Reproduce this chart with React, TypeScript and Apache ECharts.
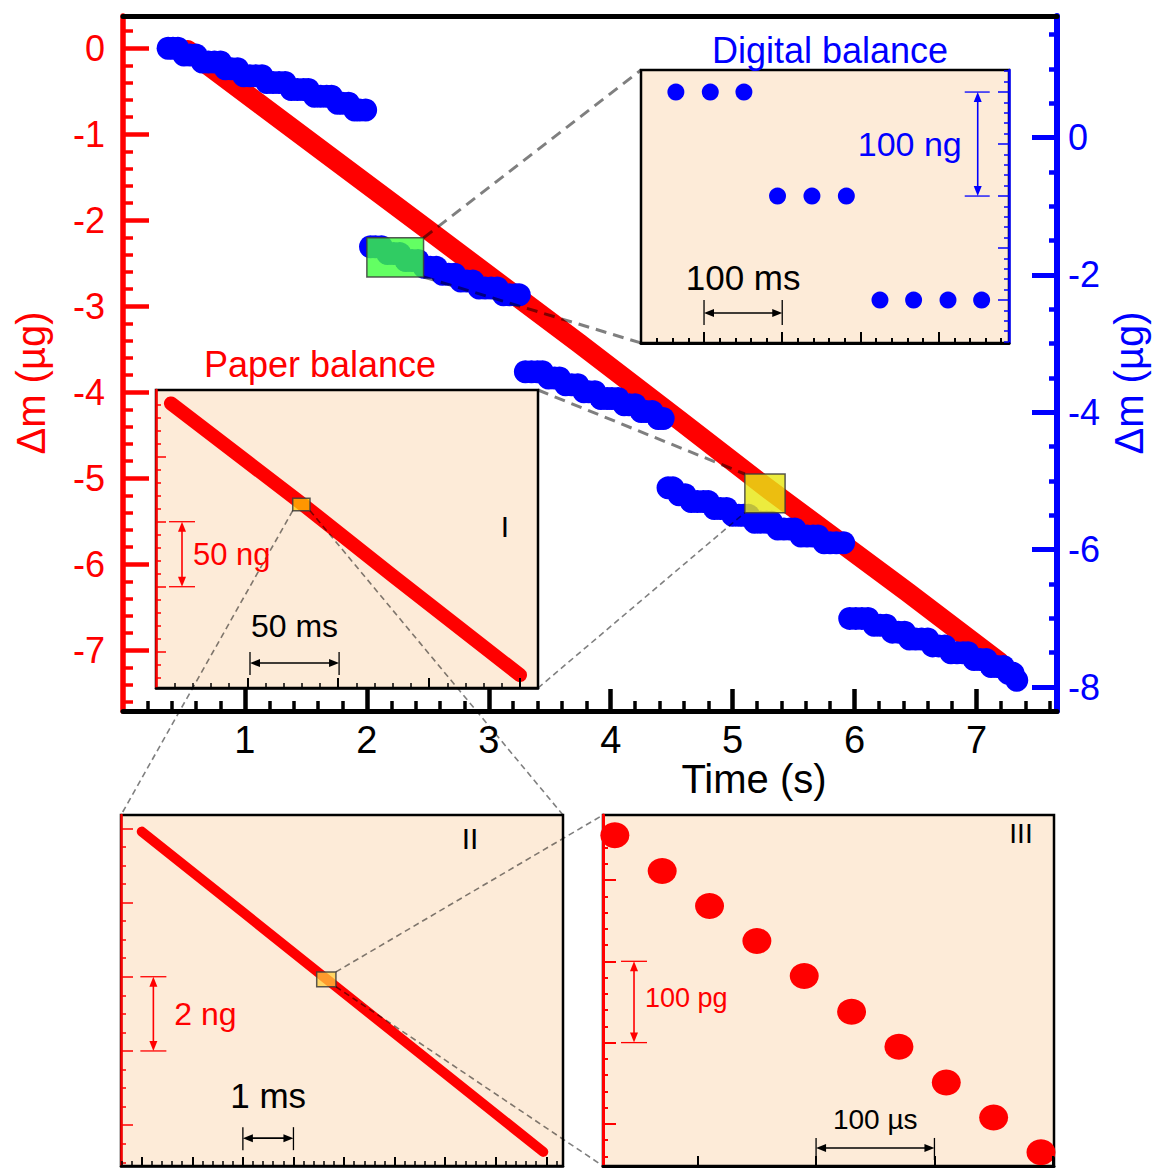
import React, { useEffect, useRef } from 'react';
import * as echarts from 'echarts';

const FONT = '"Liberation Sans", Arial, Helvetica, sans-serif';
const RED = '#ff0000';
const BLUE = '#0000ff';
const PEACH = '#fdebd8';
const DASHC = 'rgba(0,0,0,0.5)';

// ---------- data ----------
// Paper balance (main plot, left axis, µg vs s)
const paperTime = [0.53, 1.68, 2.5, 3.74, 4.56, 5.27, 6.43, 7.19];
const paperMass = [-0.02, -1.24, -2.11, -3.43, -4.32, -5.1, -6.32, -7.14];

// Digital balance (main plot, right axis, µg vs s), five segments
const digitalSeg1: number[][] = [
  [0.37, 1.3], [0.41, 1.3], [0.45, 1.3],
  [0.5, 1.2], [0.55, 1.2], [0.6, 1.2],
  [0.65, 1.1], [0.7, 1.1], [0.75, 1.1], [0.8, 1.1],
  [0.84, 1.0], [0.89, 1.0], [0.94, 1.0],
  [0.99, 0.9], [1.04, 0.9], [1.09, 0.9], [1.14, 0.9],
  [1.18, 0.8], [1.23, 0.8], [1.28, 0.8], [1.33, 0.8],
  [1.38, 0.7], [1.43, 0.7], [1.48, 0.7], [1.52, 0.7],
  [1.57, 0.6], [1.62, 0.6], [1.67, 0.6], [1.71, 0.6],
  [1.76, 0.5], [1.8, 0.5], [1.85, 0.5],
  [1.9, 0.4], [1.94, 0.4], [1.99, 0.4],
];
const digitalSeg2: number[][] = [
  [2.03, -1.59], [2.07, -1.59], [2.12, -1.59],
  [2.17, -1.69], [2.22, -1.69], [2.27, -1.69],
  [2.32, -1.79], [2.37, -1.79], [2.42, -1.79],
  [2.47, -1.89], [2.52, -1.89], [2.57, -1.89],
  [2.62, -1.99], [2.67, -1.99], [2.72, -1.99],
  [2.77, -2.09], [2.82, -2.09], [2.87, -2.09],
  [2.92, -2.19], [2.97, -2.19], [3.02, -2.19], [3.07, -2.19],
  [3.12, -2.29], [3.17, -2.29], [3.22, -2.29], [3.25, -2.29],
];
const digitalSeg3: number[][] = [
  [3.3, -3.41], [3.35, -3.41], [3.4, -3.41], [3.44, -3.41],
  [3.49, -3.5], [3.54, -3.5], [3.58, -3.5],
  [3.63, -3.6], [3.68, -3.6], [3.73, -3.6],
  [3.78, -3.7], [3.82, -3.7], [3.87, -3.7],
  [3.92, -3.8], [3.97, -3.8], [4.01, -3.8], [4.06, -3.8],
  [4.11, -3.89], [4.15, -3.89], [4.2, -3.89],
  [4.25, -3.99], [4.29, -3.99], [4.34, -3.99],
  [4.39, -4.09], [4.43, -4.09],
];
const digitalSeg4: number[][] = [
  [4.47, -5.1], [4.51, -5.1],
  [4.56, -5.2], [4.61, -5.2],
  [4.66, -5.3], [4.71, -5.3], [4.76, -5.3], [4.8, -5.3],
  [4.85, -5.4], [4.9, -5.4], [4.95, -5.4],
  [5.0, -5.5], [5.05, -5.5], [5.09, -5.5], [5.13, -5.5],
  [5.18, -5.6], [5.23, -5.6], [5.28, -5.6], [5.32, -5.6],
  [5.37, -5.7], [5.42, -5.7], [5.47, -5.7], [5.51, -5.7],
  [5.56, -5.8], [5.61, -5.8], [5.66, -5.8], [5.7, -5.8],
  [5.75, -5.9], [5.8, -5.9], [5.85, -5.9], [5.91, -5.9],
];
const digitalSeg5: number[][] = [
  [5.96, -7.0], [6.01, -7.0], [6.06, -7.0], [6.11, -7.0],
  [6.16, -7.1], [6.21, -7.1], [6.26, -7.1],
  [6.31, -7.2], [6.36, -7.2], [6.41, -7.2],
  [6.45, -7.3], [6.5, -7.3], [6.55, -7.3], [6.6, -7.3],
  [6.64, -7.4], [6.69, -7.4], [6.74, -7.4],
  [6.79, -7.5], [6.84, -7.5], [6.89, -7.5], [6.93, -7.5],
  [6.98, -7.6], [7.03, -7.6], [7.08, -7.6],
  [7.12, -7.7], [7.17, -7.7], [7.22, -7.7],
  [7.26, -7.8], [7.3, -7.8],
  [7.33, -7.9],
];

// Digital balance zoom (ms, ng)
const digZoomTime = [-36, 8, 51, 94, 138, 182, 225, 268, 312, 355];
const digZoomMass = [0, 0, 0, -100, -100, -100, -200, -200, -200, -200];

// Paper balance zoom I (ms, ng)
const p1Time = [-42, 0, 29, 80, 150];
const p1Mass = [91, 46, 15, -41.5, -118];

// Paper balance zoom II (ms, ng)
const p2Time = [0, 2, 3.65, 6, 7.94];
const p2Mass = [-0.09, -2.26, -4.06, -6.61, -8.72];

// Paper balance zoom III (µs, pg)
const p3Time = [-70, -30, 10, 50, 90, 130, 170, 210, 250, 290];
const p3Mass = [55, 11, -32, -75, -118, -162, -205, -249, -292, -335];

// ---------- tick values ----------
const range = (a: number, b: number, step: number, skipMultiple?: number) => {
  const out: number[] = [];
  const n = Math.round((b - a) / step);
  for (let i = 0; i <= n; i++) {
    const v = +(a + i * step).toFixed(6);
    if (skipMultiple && Math.abs(v / skipMultiple - Math.round(v / skipMultiple)) < 1e-6) continue;
    out.push(v);
  }
  return out;
};
const mainXMajor = [1, 2, 3, 4, 5, 6, 7];
const mainXMinor = range(0.2, 7.6, 0.2, 1);
const mainLeftMajor = [0, -1, -2, -3, -4, -5, -6, -7];
const mainLeftMinor = range(-7.6, 0.2, 0.2, 1);
const mainRightMajor = [0, -2, -4, -6, -8];
const mainRightMinor = range(-7.5, 1.5, 0.5, 2);
const digXMajor = [0, 100, 200, 300];
const digXMinor = range(-60, 380, 20, 100);
const digYMajor = [0, -50, -100, -150, -200];
const digYMinor = range(-240, 20, 10, 50);
const p1XMajor = [0, 50, 100, 150];
const p1XMinor = range(-40, 150, 10, 50);
const p1YMajor = [50, 0, -50, -100];
const p1YMinor = range(-120, 100, 10, 50);
const p2XMajor = [0, 1, 2, 3, 4, 5, 6, 7, 8];
const p2XMinor = range(-0.4, 8.2, 0.2, 1);
const p2YMajor = [0, -2, -4, -6, -8];
const p2YMinor = range(-9, 0, 0.5, 2);
const p3XMajor = [0, 100, 200, 300];
const p3YMajor = [0, -100, -200, -300];
const p3YMinor = range(-340, 60, 20, 100);

// ---------- layout ----------
const G = {
  main: { left: 123, top: 16, width: 934, height: 695 },
  dig: { left: 641, top: 70, width: 368, height: 273 },
  p1: { left: 156, top: 390, width: 382, height: 298 },
  p2: { left: 121, top: 815, width: 442, height: 351 },
  p3: { left: 603, top: 815, width: 451, height: 351 },
};

type AxOpt = {
  line?: [string, number] | null;
  ticks?: number[];
  tickLen?: number;
  tickW?: number;
  tickColor?: string;
  labels?: number[];
  labelColor?: string;
  labelSize?: number;
  margin?: number;
  z?: number;
};
const mkAxis = (gridIndex: number, position: string, min: number, max: number, o: AxOpt) => ({
  type: 'value',
  gridIndex,
  position,
  min,
  max,
  z: o.z ?? 0,
  axisLine: o.line
    ? { show: true, onZero: false, lineStyle: { color: o.line[0], width: o.line[1] } }
    : { show: false, onZero: false },
  axisTick: o.ticks
    ? {
        show: true,
        inside: true,
        length: o.tickLen ?? 8,
        customValues: o.ticks,
        lineStyle: { color: o.tickColor ?? '#000', width: o.tickW ?? 2 },
      }
    : { show: false },
  axisLabel: o.labels
    ? {
        show: true,
        customValues: o.labels,
        color: o.labelColor ?? '#000',
        fontSize: o.labelSize ?? 36,
        fontFamily: FONT,
        margin: o.margin ?? 10,
      }
    : { show: false },
  splitLine: { show: false },
  splitArea: { show: false },
  minorTick: { show: false },
});

const zip = (a: number[], b: number[]) => a.map((v, i) => [v, b[i]]);

function buildOption() {
  const inset = (g: any) => ({
    ...g,
    show: true,
    backgroundColor: PEACH,
    borderColor: '#000',
    borderWidth: 2.5,
    z: 3,
    containLabel: false,
    outerBoundsMode: 'none',
  });
  const xAxis = [
    mkAxis(0, 'bottom', 0, 7.66, {
      line: ['#000', 5], ticks: mainXMajor, tickLen: 22, tickW: 4.5,
      labels: mainXMajor, labelColor: '#000', labelSize: 38, margin: 10,
    }),
    mkAxis(0, 'bottom', 0, 7.66, { ticks: mainXMinor, tickLen: 10, tickW: 3.5 }),
    mkAxis(0, 'top', 0, 7.66, { line: ['#000', 5] }),
    mkAxis(1, 'bottom', -80.6, 390, { line: ['#000', 3], ticks: digXMajor, tickLen: 11, tickW: 2, z: 6 }),
    mkAxis(1, 'bottom', -80.6, 390, { ticks: digXMinor, tickLen: 5, tickW: 2, z: 6 }),
    mkAxis(2, 'bottom', -50.2, 159.9, { line: ['#000', 2.5], ticks: p1XMajor, tickLen: 10, tickW: 2, z: 6 }),
    mkAxis(2, 'bottom', -50.2, 159.9, { ticks: p1XMinor, tickLen: 5, tickW: 1.5, z: 6 }),
    mkAxis(3, 'bottom', -0.41, 8.33, { line: ['#000', 2.5], ticks: p2XMajor, tickLen: 9, tickW: 2, z: 6 }),
    mkAxis(3, 'bottom', -0.41, 8.33, { ticks: p2XMinor, tickLen: 5, tickW: 1.5, z: 6 }),
    mkAxis(4, 'bottom', -80, 301, { line: ['#000', 3], ticks: p3XMajor, tickLen: 10, tickW: 2, z: 6 }),
  ];
  const yAxis = [
    mkAxis(0, 'left', -7.706, 0.376, {
      line: [RED, 5.5], ticks: mainLeftMajor, tickLen: 26, tickW: 4.5, tickColor: RED,
      labels: mainLeftMajor, labelColor: RED, labelSize: 36, margin: 18,
    }),
    mkAxis(0, 'left', -7.706, 0.376, { ticks: mainLeftMinor, tickLen: 10, tickW: 3.5, tickColor: RED }),
    mkAxis(0, 'right', -8.348, 1.769, {
      line: [BLUE, 6], ticks: mainRightMajor, tickLen: 25, tickW: 5, tickColor: BLUE,
      labels: mainRightMajor, labelColor: BLUE, labelSize: 36, margin: 11,
    }),
    mkAxis(0, 'right', -8.348, 1.769, { ticks: mainRightMinor, tickLen: 8, tickW: 4.5, tickColor: BLUE }),
    mkAxis(1, 'right', -241.3, 21.2, { line: [BLUE, 2.5], ticks: digYMajor, tickLen: 11, tickW: 1.5, tickColor: BLUE, z: 6 }),
    mkAxis(1, 'right', -241.3, 21.2, { ticks: digYMinor, tickLen: 5, tickW: 1.5, tickColor: BLUE, z: 6 }),
    mkAxis(2, 'left', -127.9, 101.3, { line: [RED, 2.5], ticks: p1YMajor, tickLen: 10, tickW: 1.5, tickColor: RED, z: 6 }),
    mkAxis(2, 'left', -127.9, 101.3, { ticks: p1YMinor, tickLen: 5, tickW: 1.5, tickColor: RED, z: 6 }),
    mkAxis(3, 'left', -9.1, 0.358, { line: [RED, 2.5], ticks: p2YMajor, tickLen: 12, tickW: 1.5, tickColor: RED, z: 6 }),
    mkAxis(3, 'left', -9.1, 0.358, { ticks: p2YMinor, tickLen: 5, tickW: 1.5, tickColor: RED, z: 6 }),
    mkAxis(4, 'left', -351.8, 80, { line: [RED, 3], ticks: p3YMajor, tickLen: 13, tickW: 2, tickColor: RED, z: 6 }),
    mkAxis(4, 'left', -351.8, 80, { ticks: p3YMinor, tickLen: 5, tickW: 2, tickColor: RED, z: 6 }),
  ];
  const digitalAll = [...digitalSeg1, ...digitalSeg2, ...digitalSeg3, ...digitalSeg4, ...digitalSeg5];
  return {
    animation: false,
    backgroundColor: '#ffffff',
    textStyle: { fontFamily: FONT },
    grid: [
      { ...G.main, show: false, containLabel: false, outerBoundsMode: 'none' },
      inset(G.dig),
      inset(G.p1),
      inset(G.p2),
      inset(G.p3),
    ],
    xAxis,
    yAxis,
    series: [
      {
        type: 'line', name: 'Paper balance', xAxisIndex: 0, yAxisIndex: 0,
        data: zip(paperTime, paperMass), symbol: 'none', showSymbol: false,
        lineStyle: { color: RED, width: 20, cap: 'round', join: 'round', opacity: 1 }, z: 1, silent: true,
      },
      {
        type: 'scatter', name: 'Digital balance', xAxisIndex: 0, yAxisIndex: 2,
        data: digitalAll, symbol: 'circle', symbolSize: 23,
        itemStyle: { color: BLUE, opacity: 1 }, z: 2, silent: true,
      },
      {
        type: 'scatter', xAxisIndex: 3, yAxisIndex: 4, data: zip(digZoomTime, digZoomMass),
        symbol: 'circle', symbolSize: 17, itemStyle: { color: BLUE, opacity: 1 }, z: 5, silent: true,
      },
      {
        type: 'line', xAxisIndex: 5, yAxisIndex: 6, data: zip(p1Time, p1Mass), symbol: 'none',
        showSymbol: false, lineStyle: { color: RED, width: 14, cap: 'round', join: 'round' }, z: 5, silent: true,
      },
      {
        type: 'line', xAxisIndex: 7, yAxisIndex: 8, data: zip(p2Time, p2Mass), symbol: 'none',
        showSymbol: false, lineStyle: { color: RED, width: 10, cap: 'round', join: 'round' }, z: 5, silent: true,
      },
      {
        type: 'scatter', xAxisIndex: 9, yAxisIndex: 10, data: zip(p3Time, p3Mass),
        symbol: 'circle', symbolSize: [29, 26], itemStyle: { color: RED, opacity: 1 }, z: 5, silent: true,
      },
    ],
  };
}

type P = number[];
const Z = 20;
const lineEl = (a: P, b: P, color: string, w: number, dash?: number[]) => ({
  type: 'line', silent: true, z: Z,
  shape: { x1: a[0], y1: a[1], x2: b[0], y2: b[1] },
  style: { stroke: color, lineWidth: w, lineDash: dash || null, fill: null },
});
const rectEl = (a: P, b: P, fill: string) => ({
  type: 'rect', silent: true, z: Z - 1,
  shape: { x: Math.min(a[0], b[0]), y: Math.min(a[1], b[1]), width: Math.abs(b[0] - a[0]), height: Math.abs(b[1] - a[1]) },
  style: { fill, stroke: 'rgba(60,60,60,0.85)', lineWidth: 1.5 },
});
const textEl = (text: string, x: number, y: number, color: string, size: number, align = 'center', rotation = 0) => ({
  type: 'text', silent: true, z: Z + 2, x, y, rotation,
  style: {
    text, fill: color, fontSize: size, fontFamily: FONT,
    textAlign: align, align, textVerticalAlign: 'middle', verticalAlign: 'middle',
  },
});
const arrowEls = (a: P, b: P, color: string, w = 1.6, hl = 10, hw = 4) => {
  const dx = b[0] - a[0];
  const dy = b[1] - a[1];
  const L = Math.hypot(dx, dy);
  const ux = dx / L;
  const uy = dy / L;
  const nx = -uy;
  const ny = ux;
  const head = (p: P, s: number) => ({
    type: 'polygon', silent: true, z: Z + 1,
    shape: {
      points: [
        [p[0], p[1]],
        [p[0] + s * ux * hl + nx * hw, p[1] + s * uy * hl + ny * hw],
        [p[0] + s * ux * hl - nx * hw, p[1] + s * uy * hl - ny * hw],
      ],
    },
    style: { fill: color },
  });
  return [
    lineEl([a[0] + ux * hl * 0.7, a[1] + uy * hl * 0.7], [b[0] - ux * hl * 0.7, b[1] - uy * hl * 0.7], color, w),
    head(a, 1),
    head(b, -1),
  ];
};
const vBar = (a: P, b: P, color: string, capL: number, capR: number) => [
  ...arrowEls(a, b, color),
  lineEl([a[0] - capL, a[1]], [a[0] + capR, a[1]], color, 1.3),
  lineEl([b[0] - capL, b[1]], [b[0] + capR, b[1]], color, 1.3),
];
const hBar = (a: P, b: P, color: string, capU: number, capD: number) => [
  ...arrowEls(a, b, color),
  lineEl([a[0], a[1] - capU], [a[0], a[1] + capD], color, 1.3),
  lineEl([b[0], b[1] - capU], [b[0], b[1] + capD], color, 1.3),
];

function buildGraphics(px: (s: number, x: number, y: number) => P) {
  const els: any[] = [];
  const thick = (a: P, b: P) => lineEl(a, b, DASHC, 3, [11, 7]);
  const thin = (a: P, b: P) => lineEl(a, b, DASHC, 1.6, [6, 4]);

  const gA = px(1, 2.0, -1.46);
  const gB = px(1, 2.465, -2.03);
  const yA = px(0, 5.1, -4.95);
  const yB = px(0, 5.43, -5.4);
  const oA = px(3, 25, 18);
  const oB = px(3, 34.5, 8.5);
  const y2A = px(4, 3.46, -3.87);
  const y2B = px(4, 3.84, -4.27);
  els.push(rectEl(gA, gB, 'rgba(60,255,60,0.8)'));
  els.push(rectEl(yA, yB, 'rgba(232,232,20,0.82)'));
  els.push(rectEl(oA, oB, 'rgba(255,200,0,0.75)'));
  els.push(rectEl(y2A, y2B, 'rgba(255,205,60,0.75)'));

  const right = (g: any) => g.left + g.width;
  const bottom = (g: any) => g.top + g.height;
  els.push(thick([gB[0], gA[1]], [G.dig.left, G.dig.top]));
  els.push(thick([gB[0], gB[1]], [G.dig.left, bottom(G.dig)]));
  els.push(thick([right(G.p1), G.p1.top], [yA[0], yA[1]]));
  els.push(thin([right(G.p1), bottom(G.p1)], [yA[0], yB[1]]));
  els.push(thin([oA[0], oB[1]], [G.p2.left, G.p2.top]));
  els.push(thin([oB[0], oB[1]], [right(G.p2), G.p2.top]));
  els.push(thin([y2B[0], y2A[1]], [G.p3.left, G.p3.top]));
  els.push(thin([y2B[0], y2B[1]], [G.p3.left, bottom(G.p3)]));

  {
    const a = px(2, 350, 0);
    const b = px(2, 350, -100);
    els.push(...vBar(a, b, BLUE, 13, 12));
    els.push(textEl('100 ng', a[0] - 16, (a[1] + b[1]) / 2, BLUE, 34, 'right'));
  }
  {
    const a = px(2, 0, -212.5);
    const b = px(2, 100, -212.5);
    els.push(...hBar(a, b, '#000', 13, 12));
    els.push(textEl('100 ms', (a[0] + b[0]) / 2, a[1] - 36, '#000', 35));
  }
  {
    const a = px(3, -35.9, 0);
    const b = px(3, -35.9, -50);
    els.push(...vBar(a, b, RED, 13, 13));
    els.push(textEl('50 ng', a[0] + 11, (a[1] + b[1]) / 2, RED, 31, 'left'));
  }
  {
    const a = px(3, 1.5, -108.7);
    const b = px(3, 50.5, -108.7);
    els.push(...hBar(a, b, '#000', 11, 12));
    els.push(textEl('50 ms', (a[0] + b[0]) / 2, a[1] - 37, '#000', 32));
  }
  {
    const a = px(4, 0.23, -4);
    const b = px(4, 0.23, -6);
    els.push(...vBar(a, b, RED, 13, 13));
    els.push(textEl('2 ng', a[0] + 21, (a[1] + b[1]) / 2, RED, 32, 'left'));
  }
  {
    const a = px(4, 2, -8.35);
    const b = px(4, 3, -8.35);
    els.push(...hBar(a, b, '#000', 11, 12));
    els.push(textEl('1 ms', (a[0] + b[0]) / 2, a[1] - 43, '#000', 35));
  }
  {
    const a = px(5, -53.8, -100);
    const b = px(5, -53.8, -200);
    els.push(...vBar(a, b, RED, 13, 13));
    els.push(textEl('100 pg', a[0] + 11, (a[1] + b[1]) / 2 - 4, RED, 27, 'left'));
  }
  {
    const a = px(5, 100, -329.6);
    const b = px(5, 200, -329.6);
    els.push(...hBar(a, b, '#000', 10, 12));
    els.push(textEl('100 \u00b5s', (a[0] + b[0]) / 2, a[1] - 28, '#000', 28));
  }

  els.push(textEl('Digital balance', 830, 50, BLUE, 36));
  els.push(textEl('Paper balance', 320, 364, RED, 36));
  els.push(textEl('Time (s)', 754, 779, '#000', 40));
  els.push(textEl('\u0394m (\u00b5g)', 31, 383, RED, 40, 'center', Math.PI / 2));
  els.push(textEl('\u0394m (\u00b5g)', 1129, 383, BLUE, 40, 'center', Math.PI / 2));
  els.push(textEl('I', 505, 526, '#000', 30));
  els.push(textEl('II', 470, 838, '#000', 30));
  els.push(textEl('III', 1021, 833, '#000', 28));
  return els;
}

export default function App() {
  const ref = useRef<HTMLDivElement>(null);
  useEffect(() => {
    if (!ref.current) return;
    const chart = echarts.init(ref.current, null, { renderer: 'svg' });
    chart.setOption(buildOption() as any);
    const px = (s: number, x: number, y: number) =>
      chart.convertToPixel({ seriesIndex: s } as any, [x, y]) as unknown as number[];
    chart.setOption({ graphic: buildGraphics(px) } as any);
    return () => chart.dispose();
  }, []);
  return (
    <div
      ref={ref}
      style={{ position: 'absolute', left: 0, top: 0, width: 1154, height: 1169, background: '#fff' }}
    />
  );
}
